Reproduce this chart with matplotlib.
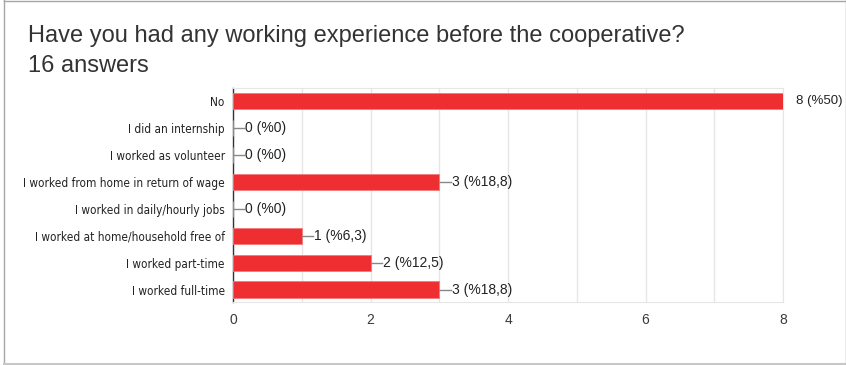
import matplotlib
matplotlib.use("Agg")
import matplotlib.pyplot as plt
from matplotlib.lines import Line2D
from matplotlib import font_manager

# survey answers, top to bottom
categories = [
    "No",
    "I did an internship",
    "I worked as volunteer",
    "I worked from home in return of wage",
    "I worked in daily/hourly jobs",
    "I worked at home/household free of",
    "I worked part-time",
    "I worked full-time",
]
counts = [8, 0, 0, 3, 0, 1, 2, 3]
percent_labels = ["%50", "%0", "%0", "%18,8", "%0", "%6,3", "%12,5", "%18,8"]
xticks = [0, 2, 4, 6, 8]

title = "Have you had any working experience before the cooperative?"
subtitle = "16 answers"

# a condensed face for the category names, if one is around
cond = None
for f in font_manager.fontManager.ttflist:
    if "Condensed" in f.fname and "DejaVuSans" in f.fname and "Bold" not in f.fname and "Oblique" not in f.fname:
        cond = f.fname
        break
cat_font = font_manager.FontProperties(fname=cond, size=8.5) if cond else font_manager.FontProperties(size=7.5)

plt.rcParams["font.family"] = ["Liberation Sans", "DejaVu Sans"]

W, H = 846, 365
fig = plt.figure(figsize=(W / 100, H / 100), dpi=100)

# card outline
frame_c = "#a6a6a6"
fig.add_artist(Line2D([4 / W, 4 / W], [0, 1], transform=fig.transFigure, color=frame_c, lw=1))
fig.add_artist(Line2D([4 / W, 1], [1 - 0.5 / H, 1 - 0.5 / H], transform=fig.transFigure, color=frame_c, lw=1))
fig.add_artist(Line2D([4 / W, 1], [1.5 / H, 1.5 / H], transform=fig.transFigure, color="#c8c8c8", lw=1.5))
fig.add_artist(Line2D([1 - 0.5 / W, 1 - 0.5 / W], [0, 1], transform=fig.transFigure, color=frame_c, lw=1))

fig.text(28 / W, 1 - 42 / H, title, fontsize=17, color="#333333", va="baseline", ha="left")
fig.text(28 / W, 1 - 72 / H, subtitle, fontsize=17, color="#333333", va="baseline", ha="left")

ax = fig.add_axes([233 / W, 63 / H, 550 / W, 214 / H])
ypos = list(range(len(categories)))
ax.barh(ypos, counts, height=0.62, color="#ee2e31", edgecolor="#f27a7c", linewidth=0.6, zorder=3)

ax.set_xlim(0, 8)
ax.set_ylim(7.45, -0.48)
ax.set_xticks(xticks)
ax.set_xticks(range(9), minor=True)
ax.grid(axis="x", which="both", color="#e6e6e6", lw=1, zorder=0)
ax.tick_params(axis="x", which="both", length=0, labelsize=10, labelcolor="#3a3a3a", pad=8)
ax.tick_params(axis="y", length=0, pad=6)
ax.set_yticks(ypos)
ax.set_yticklabels(categories, color="#222222")
for t in ax.get_yticklabels():
    t.set_fontproperties(cat_font)

for side in ["top", "right", "bottom"]:
    ax.spines[side].set_color("#e6e6e6")
ax.spines["left"].set_color("#333333")
ax.spines["left"].set_linewidth(1)

# value labels with leader lines
for y, c, p in zip(ypos, counts, percent_labels):
    label = f"{c} ({p})"
    if c >= 8:
        ax.text(c + 0.19, y, label, va="center", ha="left", fontsize=9.5, color="#222222", clip_on=False)
    else:
        ax.plot([c, c + 0.17], [y, y], color="#888888", lw=1, zorder=4)
        ax.text(c + 0.18, y, label, va="center", ha="left", fontsize=10, color="#222222")

fig.savefig("out.png", dpi=100)
